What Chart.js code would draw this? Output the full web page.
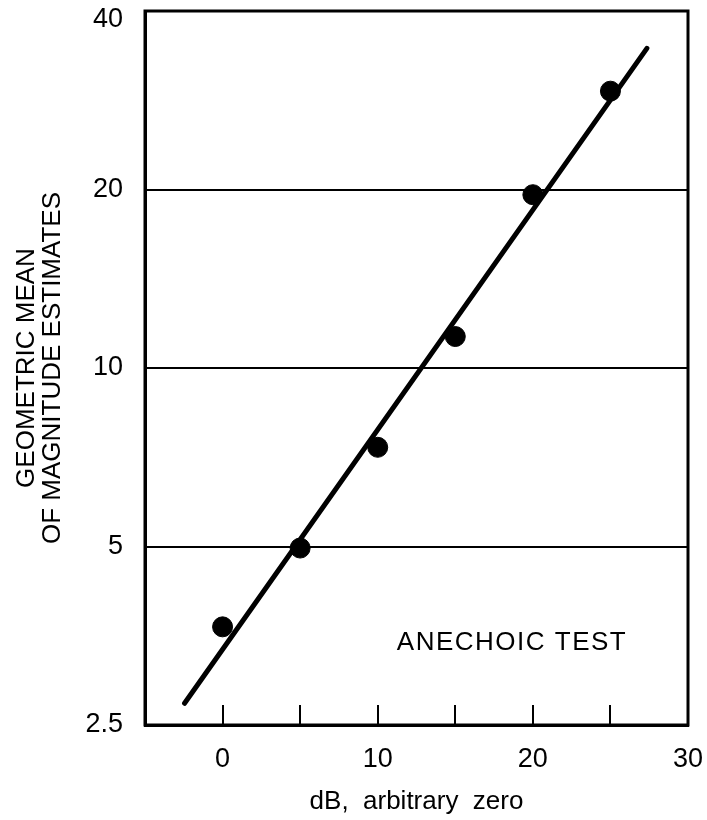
<!DOCTYPE html>
<html>
<head>
<meta charset="utf-8">
<title>Anechoic test</title>
<script src="https://cdn.jsdelivr.net/npm/chart.js@4.4.1/dist/chart.umd.min.js"></script>
<style>
  html, body { margin: 0; padding: 0; background: #fff; }
  #chart { display: block; }
</style>
</head>
<body>
<canvas id="chart" width="707" height="820"></canvas>
<script>
// measured points (dB, geometric mean of magnitude estimates)
const dbValues = [0, 5, 10, 15, 20, 25];
const meanEstimates = [3.66, 4.97, 7.35, 11.3, 19.6, 29.3];

// fitted straight line (end points)
const fitDb = [-2.45, 27.35];
const fitEstimates = [2.72, 34.6];

// axis ticks
const yTickValues = [2.5, 5, 10, 20, 40];
const xLabelValues = [0, 10, 20, 30];
const xTickMarks = [0, 5, 10, 15, 20, 25];

const FONT = '"Liberation Sans", Arial, Helvetica, sans-serif';

// frame, inward x tick marks and the text note
const framePlugin = {
  id: 'frame',
  beforeDraw(chart) {
    // keep the top label ("40") inside the canvas
    const items = chart.scales.y.getLabelItems();
    items.forEach((item) => {
      if (item.label === '40' && !item.moved) {
        item.options.translation[1] += 9;
        item.moved = true;
      }
    });
  },
  afterDatasetsDraw(chart) {
    const { ctx, chartArea, scales } = chart;
    ctx.save();
    ctx.strokeStyle = '#000';

    // inward tick marks on the bottom axis
    ctx.lineWidth = 2;
    xTickMarks.forEach((v) => {
      const x = Math.round(scales.x.getPixelForValue(v));
      ctx.beginPath();
      ctx.moveTo(x, chartArea.bottom);
      ctx.lineTo(x, chartArea.bottom - 20);
      ctx.stroke();
    });

    // box around the plot
    ctx.lineWidth = 3;
    ctx.strokeRect(chartArea.left, chartArea.top,
      chartArea.right - chartArea.left, chartArea.bottom - chartArea.top);

    // note
    ctx.fillStyle = '#000';
    ctx.font = '26px ' + FONT;
    ctx.textAlign = 'center';
    ctx.textBaseline = 'middle';
    ctx.letterSpacing = '1.5px';
    ctx.fillText('ANECHOIC TEST', chartArea.right - 176, chartArea.bottom - 82);
    ctx.restore();
  },
};

const ctx = document.getElementById('chart').getContext('2d');

new Chart(ctx, {
  type: 'scatter',
  data: {
    datasets: [
      {
        label: 'Fit',
        data: fitDb.map((x, i) => ({ x: x, y: fitEstimates[i] })),
        showLine: true,
        borderColor: '#000',
        borderWidth: 5,
        borderCapStyle: 'round',
        pointRadius: 0,
        order: 2,
      },
      {
        label: 'Geometric mean',
        data: dbValues.map((x, i) => ({ x: x, y: meanEstimates[i] })),
        backgroundColor: '#000',
        borderColor: '#000',
        pointRadius: 10,
        pointHoverRadius: 10,
        order: 1,
      },
    ],
  },
  options: {
    responsive: false,
    animation: false,
    events: [],
    layout: {
      padding: { top: 10, right: 19, left: 0, bottom: 0 },
    },
    plugins: {
      legend: { display: false },
      tooltip: { enabled: false },
    },
    scales: {
      x: {
        type: 'linear',
        min: -5,
        max: 30,
        afterFit: (scale) => {
          scale.height = 95;
          scale.paddingLeft = 0;
          scale.paddingRight = 0;
        },
        grid: { display: false },
        border: { display: true, color: '#000', width: 3 },
        ticks: {
          stepSize: 5,
          padding: 10,
          color: '#000',
          font: { family: FONT, size: 27 },
          autoSkip: false,
          maxRotation: 0,
          callback: (v) => (xLabelValues.includes(v) ? String(v) : ''),
        },
        title: {
          display: true,
          text: 'dB,  arbitrary  zero',
          color: '#000',
          font: { family: FONT, size: 26 },
          padding: { top: 0, bottom: 3 },
        },
      },
      y: {
        type: 'logarithmic',
        min: 2.5,
        max: 40,
        afterFit: (scale) => {
          scale.width = 145;
          scale.paddingTop = 0;
          scale.paddingBottom = 0;
        },
        afterBuildTicks: (scale) => {
          scale.ticks = yTickValues.map((v) => ({ value: v }));
        },
        grid: {
          color: '#000',
          lineWidth: 2,
          drawTicks: false,
        },
        border: { display: true, color: '#000', width: 3 },
        ticks: {
          padding: 22,
          color: '#000',
          font: { family: FONT, size: 27 },
          autoSkip: false,
          callback: (v) => String(v),
        },
        title: {
          display: true,
          text: ['GEOMETRIC MEAN', 'OF MAGNITUDE ESTIMATES'],
          color: '#000',
          font: { family: FONT, size: 26, lineHeight: 1.0 },
          padding: { top: 14, bottom: 0 },
        },
      },
    },
  },
  plugins: [framePlugin],
});
</script>
</body>
</html>
